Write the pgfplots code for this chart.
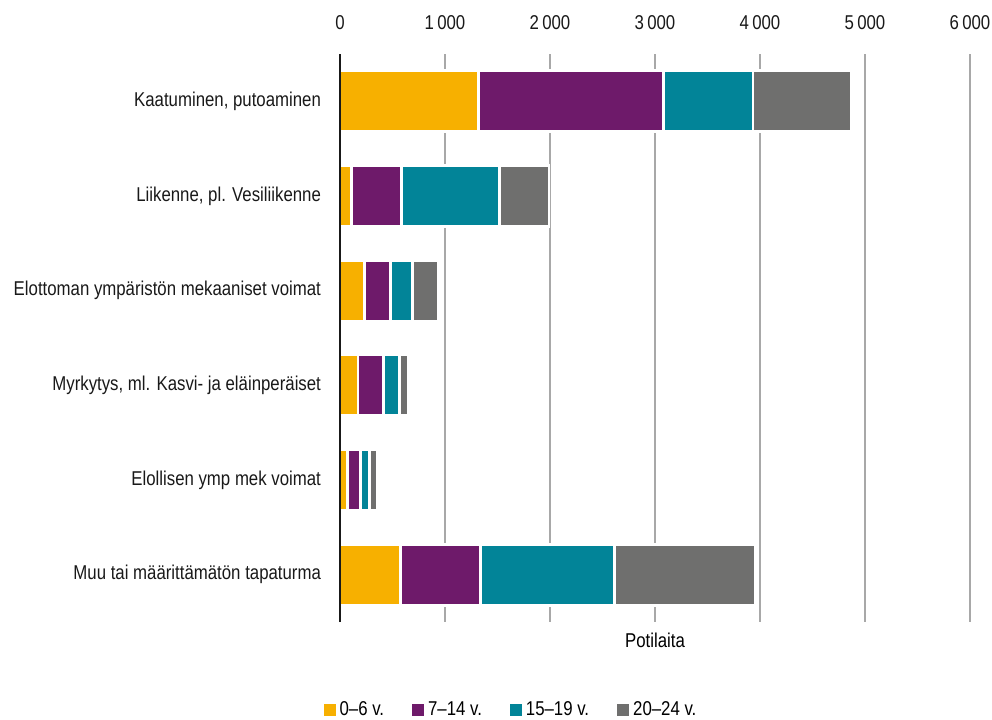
\documentclass[border=0pt]{standalone}
\usepackage{pgfplots}
\pgfplotsset{compat=1.18}
\usepackage{fontspec}
\setmainfont[FakeStretch=0.84]{Liberation Sans}
\definecolor{cA}{HTML}{F7B000}
\definecolor{cB}{HTML}{6E1A6A}
\definecolor{cC}{HTML}{028498}
\definecolor{cD}{HTML}{6F6F6E}
\definecolor{gridc}{HTML}{A8A8A8}
\begin{document}
\begin{tikzpicture}
\begin{axis}[
  scale only axis,
  width=315pt, height=284pt,
  xbar stacked,
  bar width=30.5pt,
  xmin=0, xmax=6000,
  ymin=-0.5, ymax=5.5,
  y dir=reverse,
  xtick={0,1000,...,6000},
  ytick={0,1,2,3,4,5},
  yticklabels={Kaatuminen{,} putoaminen, {Liikenne, pl. Vesiliikenne}, Elottoman ympäristön mekaaniset voimat, {Myrkytys, ml. Kasvi- ja eläinperäiset}, Elollisen ymp mek voimat, Muu tai määrittämätön tapaturma},
  xticklabel pos=top,
  axis line style={draw=none},
  major tick length=0pt,
  xmajorgrids,
  grid style={gridc, line width=0.7pt},
  /pgf/number format/assume math mode=true,
  /pgf/number format/1000 sep={\,},
  scaled x ticks=false,
  tick label style={font=\fontsize{10}{12}\selectfont, text=black!90},
  xticklabel style={yshift=8.5pt},
  yticklabel style={xshift=-6pt},
  xlabel={Potilaita},
  xlabel style={at={(axis description cs:0.5,0)}, anchor=north, yshift=-2pt, font=\fontsize{10}{12}\selectfont},
  legend style={draw=none, at={(axis description cs:0.273,-0.126)}, anchor=north, legend columns=-1, font=\fontsize{10}{12}\selectfont, /tikz/every even column/.append style={column sep=12pt}},
  legend image code/.code={\fill[#1, draw=none] (0pt,-3pt) rectangle (6pt,3pt);},
  every axis plot/.append style={draw=white, line width=1.4pt},
]
\addplot[fill=cA] coordinates {(1321,0) (110,1) (237,2) (172,3) (68,4) (573,5)};
\addplot[fill=cB] coordinates {(1758,0) (478,1) (241,2) (246,3) (125,4) (768,5)};
\addplot[fill=cC] coordinates {(855,0) (928,1) (212,2) (152,3) (90,4) (1273,5)};
\addplot[fill=cD] coordinates {(941,0) (474,1) (243,2) (79,3) (75,4) (1338,5)};
\legend{0–6 v., 7–14 v., 15–19 v., 20–24 v.}
\end{axis}
\draw[black!90, line width=1.1pt] (current axis.south west) -- (current axis.north west);
\pgfresetboundingbox
\path[use as bounding box] (current axis.south west) ++(-170pt,-48.5pt) rectangle ++(496pt,359.5pt);
\end{tikzpicture}
\end{document}
